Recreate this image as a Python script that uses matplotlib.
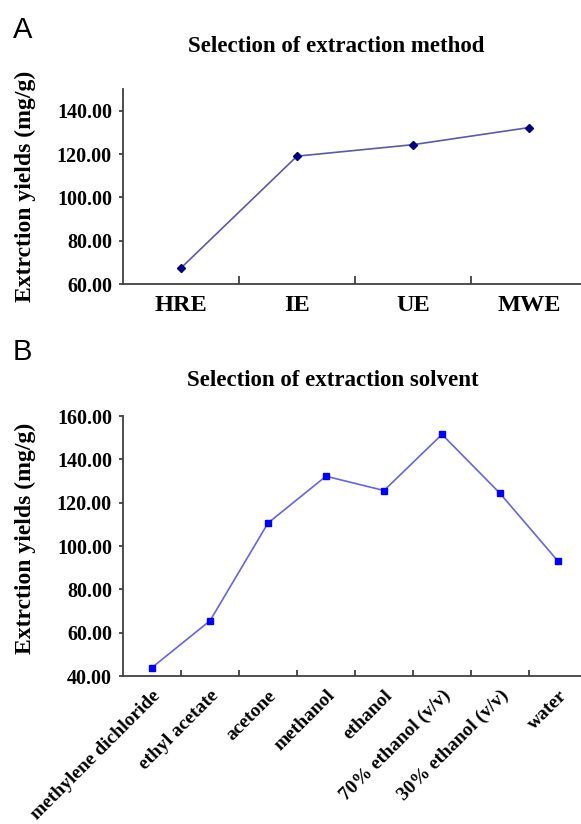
import numpy as np
import matplotlib
matplotlib.use("Agg")
from matplotlib import pyplot as plt
from matplotlib.ticker import FormatStrFormatter, FixedLocator

## Data ##
methods = ["HRE", "IE", "UE", "MWE"]
method_yield = [67.4, 119.0, 124.3, 132.2]

solvents = ["methylene dichloride", "ethyl acetate", "acetone", "methanol",
            "ethanol", "70% ethanol (v/v)", "30% ethanol (v/v)", "water"]
solvent_yield = [43.9, 65.5, 110.6, 132.2, 125.6, 151.5, 124.3, 93.0]

W, H = 581, 824
plt.rcParams['font.family'] = ['Liberation Serif', 'DejaVu Serif']
plt.rcParams['font.weight'] = 'bold'

fig = plt.figure(figsize=(W / 100, H / 100), dpi=100)

spine_col = '#404040'

def style_axes(ax, n, tick_len):
    for s in ['top', 'right']:
        ax.spines[s].set_visible(False)
    for s in ['left', 'bottom']:
        ax.spines[s].set_color(spine_col)
        ax.spines[s].set_linewidth(1.3)
    ax.set_xlim(-0.5, n - 0.5)
    ax.xaxis.set_minor_locator(FixedLocator(np.arange(0.5, n - 0.5, 1.0)))
    ax.tick_params(axis='x', which='major', length=0)
    ax.tick_params(axis='x', which='minor', direction='in', length=tick_len,
                   width=1.3, color=spine_col)
    ax.tick_params(axis='y', which='major', direction='out', length=3,
                   width=1.3, color=spine_col, labelsize=14.5, pad=5)
    ax.yaxis.set_major_formatter(FormatStrFormatter('%.2f'))
    for lab in ax.get_yticklabels():
        lab.set_fontweight('bold')
    ax.set_ylabel('Extrction yields (mg/g)', fontsize=17, fontweight='bold')

## Panel A ##
axA = fig.add_axes([123 / W, (H - 284) / H, 464 / W, 195 / H])
xa = np.arange(len(methods))
axA.plot(xa, method_yield, color='#5a5aa8', lw=1.2, marker='D',
         markersize=4.5, markerfacecolor='#000080', markeredgecolor='#000080')
axA.set_ylim(60, 150)
axA.set_yticks(np.arange(60, 141, 20))
style_axes(axA, len(methods), 6)
axA.set_xticks(xa)
axA.set_xticklabels(methods, fontsize=17.5, fontweight='bold')
axA.tick_params(axis='x', which='major', pad=8)
axA.yaxis.set_label_coords(-0.188, 0.5)

## Panel B ##
axB = fig.add_axes([123 / W, (H - 676) / H, 464 / W, 260 / H])
xb = np.arange(len(solvents))
axB.plot(xb, solvent_yield, color='#6464e6', lw=1.2, marker='s',
         markersize=5, markerfacecolor='#0000ff', markeredgecolor='#0000ff')
axB.set_ylim(40, 160)
axB.set_yticks(np.arange(40, 161, 20))
style_axes(axB, len(solvents), 4)
axB.set_xticks(xb)
axB.set_xticklabels(solvents, fontsize=14, fontweight='bold', rotation=45,
                    ha='right', rotation_mode='anchor')
axB.tick_params(axis='x', which='major', pad=8)
axB.yaxis.set_label_coords(-0.188, 0.53)

## Titles and panel letters ##
fig.text(336 / W, 1 - 47 / H, 'Selection of extraction method',
         ha='center', va='center', fontsize=16.5, fontweight='bold')
fig.text(333 / W, 1 - 380 / H, 'Selection of extraction solvent',
         ha='center', va='center', fontsize=16.5, fontweight='bold')
fig.text(13 / W, 1 - 30 / H, 'A', ha='left', va='center', fontsize=21,
         fontweight='normal', family=['Liberation Sans', 'DejaVu Sans'])
fig.text(13 / W, 1 - 352 / H, 'B', ha='left', va='center', fontsize=21,
         fontweight='normal', family=['Liberation Sans', 'DejaVu Sans'])

fig.savefig('out.png', dpi=100)
